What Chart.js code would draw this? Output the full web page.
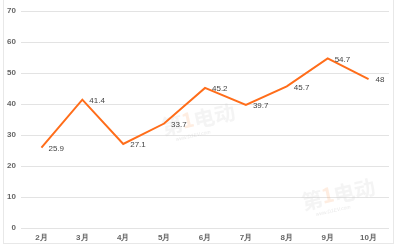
<!DOCTYPE html>
<html>
<head>
<meta charset="utf-8">
<script src="https://cdn.jsdelivr.net/npm/chart.js@4/dist/chart.umd.min.js"></script>
<style>
html,body{margin:0;padding:0;background:#fff;}
#wrap{position:relative;width:400px;height:250px;}
#frame{position:absolute;left:3px;top:-2px;width:391px;height:246px;border:1px solid #e8e8e8;box-sizing:border-box;pointer-events:none;}
canvas{position:absolute;left:0;top:0;}
</style>
</head>
<body>
<div id="wrap">
<canvas id="c" width="400" height="250"></canvas>
<div id="frame"></div>
</div>
<script>
const categories = ['2月','3月','4月','5月','6月','7月','8月','9月','10月'];
const values = [25.9, 41.4, 27.1, 33.7, 45.2, 39.7, 45.7, 54.7, 48];
const yTicks = [0, 10, 20, 30, 40, 50, 60, 70];

const FONT = '"Liberation Sans", Arial, sans-serif';

const watermark = {
  id: 'watermark',
  beforeDatasetsDraw(chart) {
    const ctx = chart.ctx;
    const spots = [[186, 122], [326, 197]];
    ctx.save();
    for (const [x, y] of spots) {
      ctx.save();
      ctx.translate(x, y);
      ctx.rotate(-0.22);
      ctx.font = 'bold 21px "Noto Sans CJK SC", sans-serif';
      ctx.textAlign = 'center';
      ctx.textBaseline = 'middle';
      ctx.fillStyle = 'rgba(205,205,205,0.22)';
      ctx.fillText('第', -14, 0);
      ctx.fillStyle = 'rgba(250,175,120,0.22)';
      ctx.fillText('1', 2, -2);
      ctx.fillStyle = 'rgba(205,205,205,0.22)';
      ctx.fillText('电动', 29, 0);
      ctx.font = 'italic 5px ' + FONT;
      ctx.fillStyle = 'rgba(190,190,190,0.35)';
      ctx.fillText('www.D1EV.com', 4, 15);
      ctx.restore();
    }
    ctx.restore();
  }
};

const pointLabels = {
  id: 'pointLabels',
  afterDatasetsDraw(chart) {
    const ctx = chart.ctx;
    const meta = chart.getDatasetMeta(0);
    ctx.save();
    ctx.font = '8px ' + FONT;
    ctx.fillStyle = '#444';
    ctx.textAlign = 'left';
    ctx.textBaseline = 'middle';
    meta.data.forEach((pt, i) => {
      ctx.fillText(String(values[i]), pt.x + 7, pt.y + 1);
    });
    ctx.restore();
  }
};

new Chart(document.getElementById('c'), {
  type: 'line',
  data: {
    labels: categories,
    datasets: [{
      data: values,
      borderColor: '#ff6d1a',
      borderWidth: 2,
      pointRadius: 0,
      tension: 0,
      fill: false
    }]
  },
  options: {
    responsive: false,
    animation: false,
    devicePixelRatio: 1,
    layout: { padding: { left: 0, right: 11, top: 11, bottom: 0 } },
    plugins: { legend: { display: false }, tooltip: { enabled: false } },
    scales: {
      x: {
        offset: true,
        grid: { display: false, drawTicks: false },
        border: { display: false },
        ticks: { font: { size: 8, family: FONT, weight: 'bold' }, color: '#666', padding: 5, maxRotation: 0 },
        afterFit(s) { s.height = 22; }
      },
      y: {
        min: 0,
        max: 70,
        afterBuildTicks(s) { s.ticks = yTicks.map(v => ({ value: v })); },
        grid: { color: '#e3e3e3', lineWidth: 1, drawTicks: false },
        border: { display: false },
        ticks: { font: { size: 8, family: FONT, weight: 'bold' }, color: '#666', padding: 5 },
        afterFit(s) { s.width = 21; }
      }
    }
  },
  plugins: [watermark, pointLabels]
});
</script>
</body>
</html>
